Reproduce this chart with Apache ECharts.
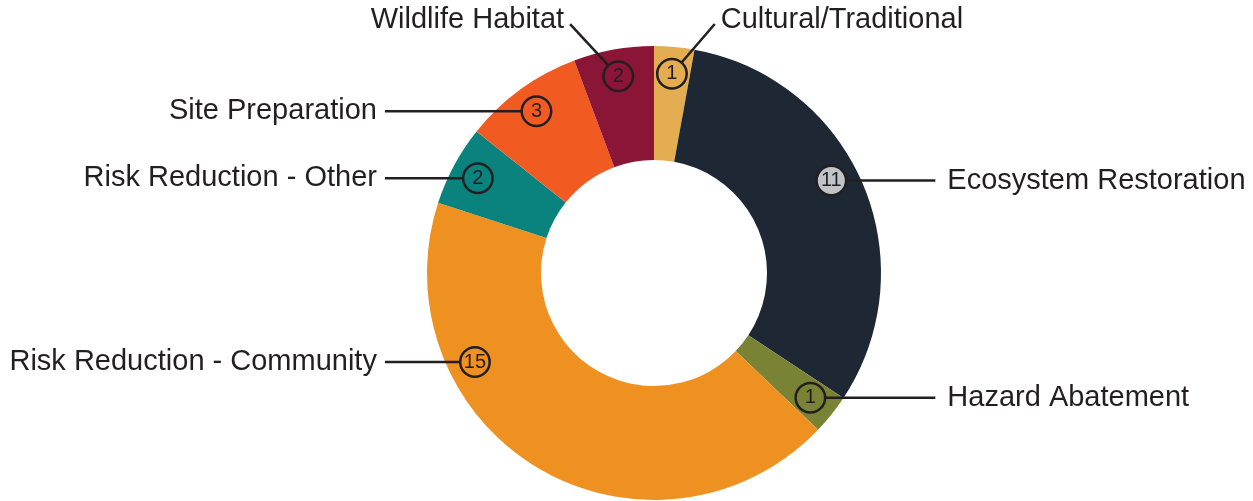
<!DOCTYPE html>
<html><head><meta charset="utf-8">
<script src="https://cdn.jsdelivr.net/npm/echarts@6/dist/echarts.min.js"></script>
<style>html,body{margin:0;padding:0;background:#fff}#c{width:1253px;height:501px}</style>
</head><body><div id="c"></div>
<script>
const categories = ['Cultural/Traditional', 'Ecosystem Restoration', 'Hazard Abatement', 'Risk Reduction - Community', 'Risk Reduction - Other', 'Site Preparation', 'Wildlife Habitat'];
const counts = [1, 11, 1, 15, 2, 3, 2];

// styles / layout
const sliceColors = ['#E5AD52', '#1D2834', '#7A8335', '#EF9121', '#0A827E', '#F15B22', '#8A1537'];
const badgeFills  = ['#E5AD52', '#C0C4C8', '#7A8335', '#EF9121', '#0A827E', '#F15B22', '#8A1537'];
const textColor = '#231f20';
const CX = 654, CY = 273, R_OUT = 227, R_IN = 113, R_BADGE = 200;
const RIGHT_REACH = 104, LEFT_REACH = 90, RIGHT_GAP = 12, LEFT_GAP = 8;
const labelNudgeDeg = { 'Ecosystem Restoration': -4.4, 'Risk Reduction - Community': 32.7 };
const raised = { 'Cultural/Traditional': { length: 54, length2: 38 }, 'Wildlife Habitat': { length: 57, length2: 38 } };

const total = counts.reduce((a, b) => a + b, 0);
function anchor(i) {
  let before = 0;
  for (let k = 0; k < i; k++) before += counts[k];
  const mid = (before + counts[i] / 2) / total * 360;
  const a = (mid + (labelNudgeDeg[categories[i]] || 0)) * Math.PI / 180;
  return [CX + R_BADGE * Math.sin(a), CY - R_BADGE * Math.cos(a)];
}
// aligned label-line columns, from the side's outermost anchor
const anchors = categories.map((_, i) => anchor(i));
const sideIdx = categories.map((n, i) => i).filter(i => !raised[categories[i]]);
const rightCol = Math.max(...sideIdx.filter(i => anchors[i][0] >= CX).map(i => anchors[i][0])) + RIGHT_REACH;
const leftCol = Math.min(...sideIdx.filter(i => anchors[i][0] < CX).map(i => anchors[i][0])) - LEFT_REACH;

const chart = echarts.init(document.getElementById('c'), null, { renderer: 'canvas' });
chart.setOption({
  animation: false,
  series: [
    {
      type: 'pie', center: [CX, CY], radius: [R_IN, R_OUT], startAngle: 90, clockwise: true,
      silent: true, z: 2, label: { show: false }, labelLine: { show: false },
      data: categories.map((n, i) => ({ name: n, value: counts[i], itemStyle: { color: sliceColors[i] } }))
    },
    {
      type: 'pie', center: [CX, CY], radius: [0, R_BADGE], startAngle: 90, clockwise: true,
      silent: true, z: 5, itemStyle: { color: 'rgba(0,0,0,0)' },
      label: {
        show: true, position: 'outside', alignTo: 'none', bleedMargin: 0, distanceToLabelLine: RIGHT_GAP,
        formatter: '{b}', fontFamily: 'Liberation Sans', fontSize: 29, color: textColor, overflow: 'none'
      },
      labelLine: { show: true, length: 0, length2: 60, smooth: false, lineStyle: { color: textColor, width: 2.5 } },
      data: categories.map((n, i) => {
        const d = { name: n, value: counts[i] };
        if (raised[n]) {
          d.label = { distanceToLabelLine: 6 };
          d.labelLine = { length: raised[n].length, length2: raised[n].length2 };
        }
        return d;
      }),
      labelLayout: function (p) {
        const i = p.dataIndex, n = categories[i];
        const pts = p.labelLinePoints;
        if (!pts) return {};
        if (raised[n]) return { labelLinePoints: [pts[0], [pts[2][0], pts[2][1] + 4], [pts[2][0], pts[2][1] + 4]] };
        const a = anchors[i];
        const right = a[0] >= CX;
        const col = right ? rightCol : leftCol;
        return {
          x: right ? col + RIGHT_GAP : col - LEFT_GAP, y: a[1],
          labelLinePoints: [a, a, [col, a[1]]]
        };
      }
    },
    {
      type: 'pie', center: [CX, CY], radius: [R_BADGE - 1, R_BADGE + 1], startAngle: 90, clockwise: true,
      silent: true, z: 10, itemStyle: { color: 'rgba(0,0,0,0)' },
      label: {
        show: true, position: 'inside', formatter: '{c}', fontFamily: 'Liberation Sans', fontSize: 20,
        color: textColor, width: 27, height: 27, lineHeight: 27, align: 'center', verticalAlign: 'middle',
        borderColor: textColor, borderWidth: 2.5, borderRadius: 16, padding: 0
      },
      labelLine: { show: false },
      data: categories.map((n, i) => ({ name: n, value: counts[i], label: { backgroundColor: badgeFills[i] } })),
      labelLayout: function (p) {
        const a = anchors[p.dataIndex];
        return { x: a[0], y: a[1] };
      }
    }
  ]
});
</script>
</body></html>
